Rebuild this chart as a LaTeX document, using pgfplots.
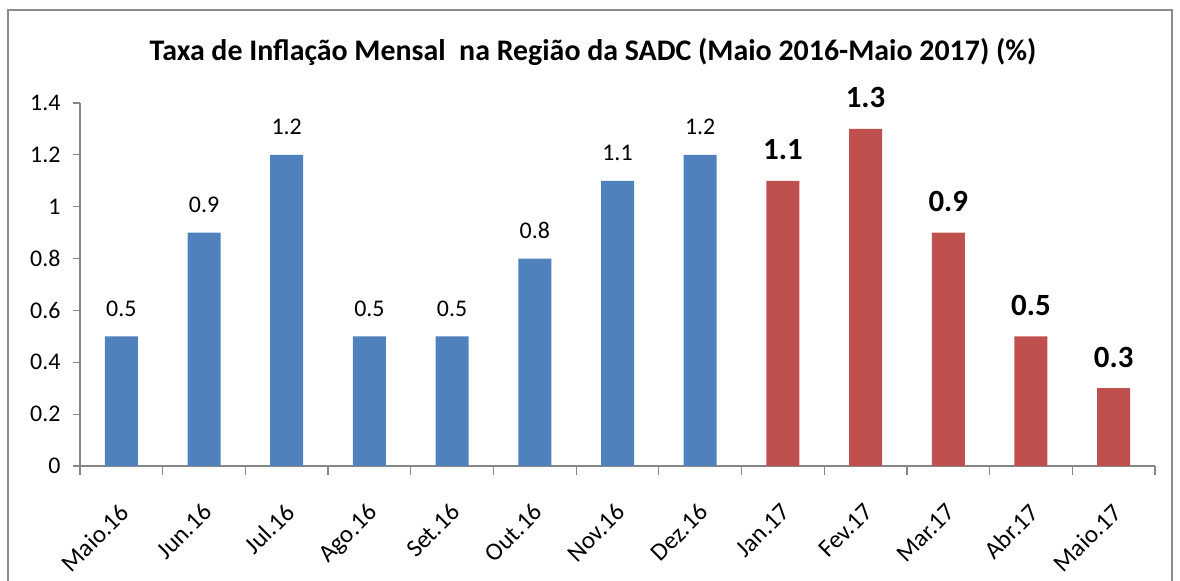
\documentclass[border=0pt]{standalone}
\usepackage{pgfplots}
\pgfplotsset{compat=1.18}
\usepackage{fontspec}
\setmainfont{Carlito}
\definecolor{bblue}{HTML}{4F81BD}
\definecolor{bred}{HTML}{C0504D}
\definecolor{axgray}{HTML}{868686}
\definecolor{framegray}{HTML}{8C8C8C}
\begin{document}
\begin{tikzpicture}[x=1bp,y=1bp]
\path[use as bounding box] (0,0) rectangle (1180,581);
\draw[framegray, line width=2bp] (8,-10) -- (8,571) -- (1172,571) -- (1172,-10);
\node[font=\fontsize{30}{30}\selectfont\bfseries] at (593,529) {Taxa de Inflação Mensal \ na Região da SADC (Maio 2016-Maio 2017) (\%)};
\begin{axis}[
  at={(80bp,115bp)}, anchor=south west,
  scale only axis, width=1075bp, height=363bp,
  xmin=-0.5, xmax=12.5, ymin=0, ymax=1.4,
  axis lines=left, axis line style={-, draw=axgray, line width=1.2bp},
  every tick/.style={draw=axgray, line width=1.2bp},
  tick align=outside,
  ytick={0,0.2,0.4,0.6,0.8,1,1.2,1.4},
  yticklabel style={font=\fontsize{24}{24}\selectfont, /pgf/number format/fixed, xshift=-9bp},
  major tick length=7bp,
  xtick={0,...,12},
  xticklabels={Maio.16,Jun.16,Jul.16,Ago.16,Set.16,Out.16,Nov.16,Dez.16,Jan.17,Fev.17,Mar.17,Abr.17,Maio.17},
  x tick style={draw=none},
  xticklabel style={font=\fontsize{25}{25}\selectfont, rotate=45, anchor=north east, xshift=-19bp, yshift=-15bp},
  extra x ticks={-0.5,0.5,1.5,2.5,3.5,4.5,5.5,6.5,7.5,8.5,9.5,10.5,11.5,12.5},
  extra x tick labels={},
  extra x tick style={x tick style={draw=axgray, line width=1.2bp}, major tick length=9bp},
  /pgf/number format/assume math mode=true,
  ybar, bar width=33bp,
  clip=false,
]
\addplot[ybar, bar shift=0pt, fill=bblue, draw=none,
  nodes near coords,
  every node near coord/.append style={font=\fontsize{24}{24}\selectfont, anchor=center, yshift=28bp, text=black}]
  coordinates {(0,0.5) (1,0.9) (2,1.2) (3,0.5) (4,0.5) (5,0.8) (6,1.1) (7,1.2)};
\addplot[ybar, bar shift=0pt, fill=bred, draw=none,
  nodes near coords,
  every node near coord/.append style={font=\fontsize{31}{31}\selectfont\bfseries, anchor=center, yshift=31bp, text=black}]
  coordinates {(8,1.1) (9,1.3) (10,0.9) (11,0.5) (12,0.3)};
\end{axis}
\end{tikzpicture}
\end{document}
